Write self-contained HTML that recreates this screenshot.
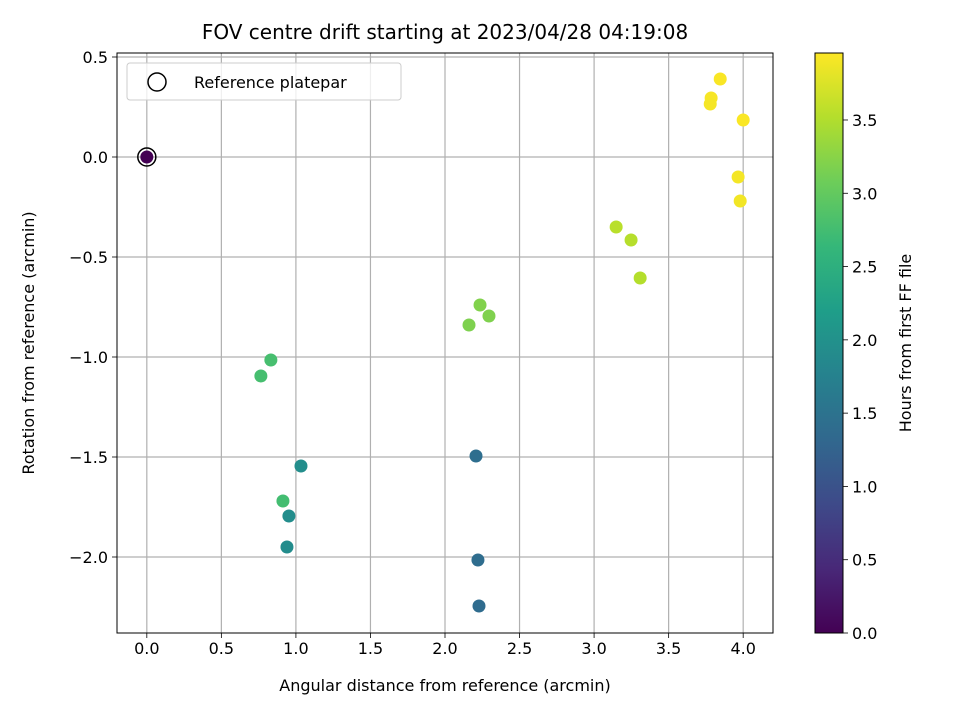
<!DOCTYPE html>
<html><head><meta charset="utf-8"><style>
body{margin:0;background:#fff;}
svg{display:block;font-family:"DejaVu Sans","Liberation Sans",sans-serif;}
</style></head><body>
<svg id="chart" width="960" height="720" viewBox="0 0 960 720"></svg>
<script>
const xs=[3.846,3.785,3.779,4.0,3.966,3.98,3.148,3.248,3.309,2.235,2.295,2.161,0.832,0.765,1.034,0.913,0.953,0.94,2.208,2.221,2.228];
const ys=[0.39,0.295,0.265,0.185,-0.1,-0.22,-0.35,-0.415,-0.605,-0.74,-0.795,-0.84,-1.015,-1.095,-1.545,-1.72,-1.795,-1.95,-1.495,-2.015,-2.245];
const hours=[3.93,3.92,3.91,3.94,3.9,3.89,3.55,3.53,3.52,3.2,3.19,3.18,2.78,2.77,1.95,2.75,1.93,1.92,1.42,1.4,1.38];
const refX=[0], refY=[0], refH=[0];
const xTicks=[0,0.5,1,1.5,2,2.5,3,3.5,4];
const yTicks=[0.5,0,-0.5,-1,-1.5,-2];
const cTicks=[0,0.5,1,1.5,2,2.5,3,3.5];
const X0=117,X1=773,Y0=53,Y1=633,xmin=-0.2,xmax=4.2,ymin=-2.38,ymax=0.52,cmax=3.957;
const sx=v=>X0+(v-xmin)/(xmax-xmin)*(X1-X0);
const sy=v=>Y1-(v-ymin)/(ymax-ymin)*(Y1-Y0);
const sc=v=>Y1-v/cmax*(Y1-Y0);
const vir=[[68,1,84],[72,40,120],[62,74,137],[49,104,142],[38,130,142],[31,158,137],[53,183,121],[109,205,89],[180,222,44],[253,231,37]];
function cmap(t){t=Math.max(0,Math.min(1,t))*(vir.length-1);const i=Math.min(vir.length-2,Math.floor(t)),f=t-i;const c=vir[i].map((a,k)=>Math.round(a+(vir[i+1][k]-a)*f));return`rgb(${c})`;}
const svg=document.getElementById('chart');const NS='http://www.w3.org/2000/svg';
function el(tag,attrs,parent,text){const e=document.createElementNS(NS,tag);for(const k in attrs)e.setAttribute(k,attrs[k]);if(text!==undefined)e.textContent=text;(parent||svg).appendChild(e);return e;}
const fmt=v=>(v<0?'\u2212':'')+Math.abs(v).toFixed(1);
xTicks.forEach(v=>{const x=sx(v);
 let g=el('line',{x1:x,x2:x,y1:Y0,y2:Y1,stroke:'#b0b0b0','stroke-width':1.2});
 
 el('line',{x1:x,x2:x,y1:Y1,y2:Y1+5,stroke:'#000','stroke-width':0.8});
 let t=el('text',{x:x,y:Y1+21,'font-size':16,'text-anchor':'middle'},svg,fmt(v));
 });
yTicks.forEach(v=>{const y=sy(v);
 let g=el('line',{x1:X0,x2:X1,y1:y,y2:y,stroke:'#b0b0b0','stroke-width':1.2});
 
 el('line',{x1:X0-5,x2:X0,y1:y,y2:y,stroke:'#000','stroke-width':0.8});
 let t=el('text',{x:X0-9,y:y+6,'font-size':16,'text-anchor':'end'},svg,fmt(v));
 });
xs.forEach((v,i)=>{let c=el('circle',{cx:sx(v),cy:sy(ys[i]),r:6.5,fill:cmap(hours[i]/cmax)});
 });
refX.forEach((v,i)=>{let c=el('circle',{cx:sx(v),cy:sy(refY[i]),r:9,fill:'none',stroke:'#000','stroke-width':1.5});
 
 let d=el('circle',{cx:sx(v),cy:sy(refY[i]),r:6.5,fill:cmap(refH[i]/cmax)});
 });
let fr=el('rect',{x:X0,y:Y0,width:X1-X0,height:Y1-Y0,fill:'none',stroke:'#000','stroke-width':1});

const lg=el('g',{});
el('rect',{x:127,y:63,width:274,height:37,rx:3,fill:'#fff','fill-opacity':0.8,stroke:'#ccc'},lg);
el('circle',{cx:157,cy:82,r:9,fill:'none',stroke:'#000','stroke-width':1.5},lg);
el('text',{x:194,y:88,'font-size':16},lg,'Reference platepar');
const defs=el('defs',{});const gr=el('linearGradient',{id:'vg',x1:0,y1:1,x2:0,y2:0},defs);
vir.forEach((c,i)=>el('stop',{offset:i/(vir.length-1),'stop-color':`rgb(${c})`},gr));
let cb=el('rect',{x:815,y:Y0,width:28,height:Y1-Y0,fill:'url(#vg)',stroke:'#000','stroke-width':1});

cTicks.forEach(v=>{const y=sc(v);el('line',{x1:843,x2:848,y1:y,y2:y,stroke:'#000','stroke-width':0.8});
 let t=el('text',{x:852,y:y+6,'font-size':16},svg,v.toFixed(1));
 });
let ct=el('text',{x:911,y:343,'font-size':16,'text-anchor':'middle',transform:'rotate(-90 911 343)'},svg,'Hours from first FF file');

let tt=el('text',{x:445,y:39,'font-size':20,'text-anchor':'middle'},svg,'FOV centre drift starting at 2023/04/28 04:19:08');

let xt=el('text',{x:445,y:691,'font-size':16,'text-anchor':'middle'},svg,'Angular distance from reference (arcmin)');

let yt=el('text',{x:39,y:343,'font-size':16,'text-anchor':'middle',transform:'rotate(-90 39 343)'},svg,'Rotation from reference (arcmin)');
yt.setAttribute('transform','rotate(-90 34 343)');yt.setAttribute('x',34);

</script>
</body></html>
